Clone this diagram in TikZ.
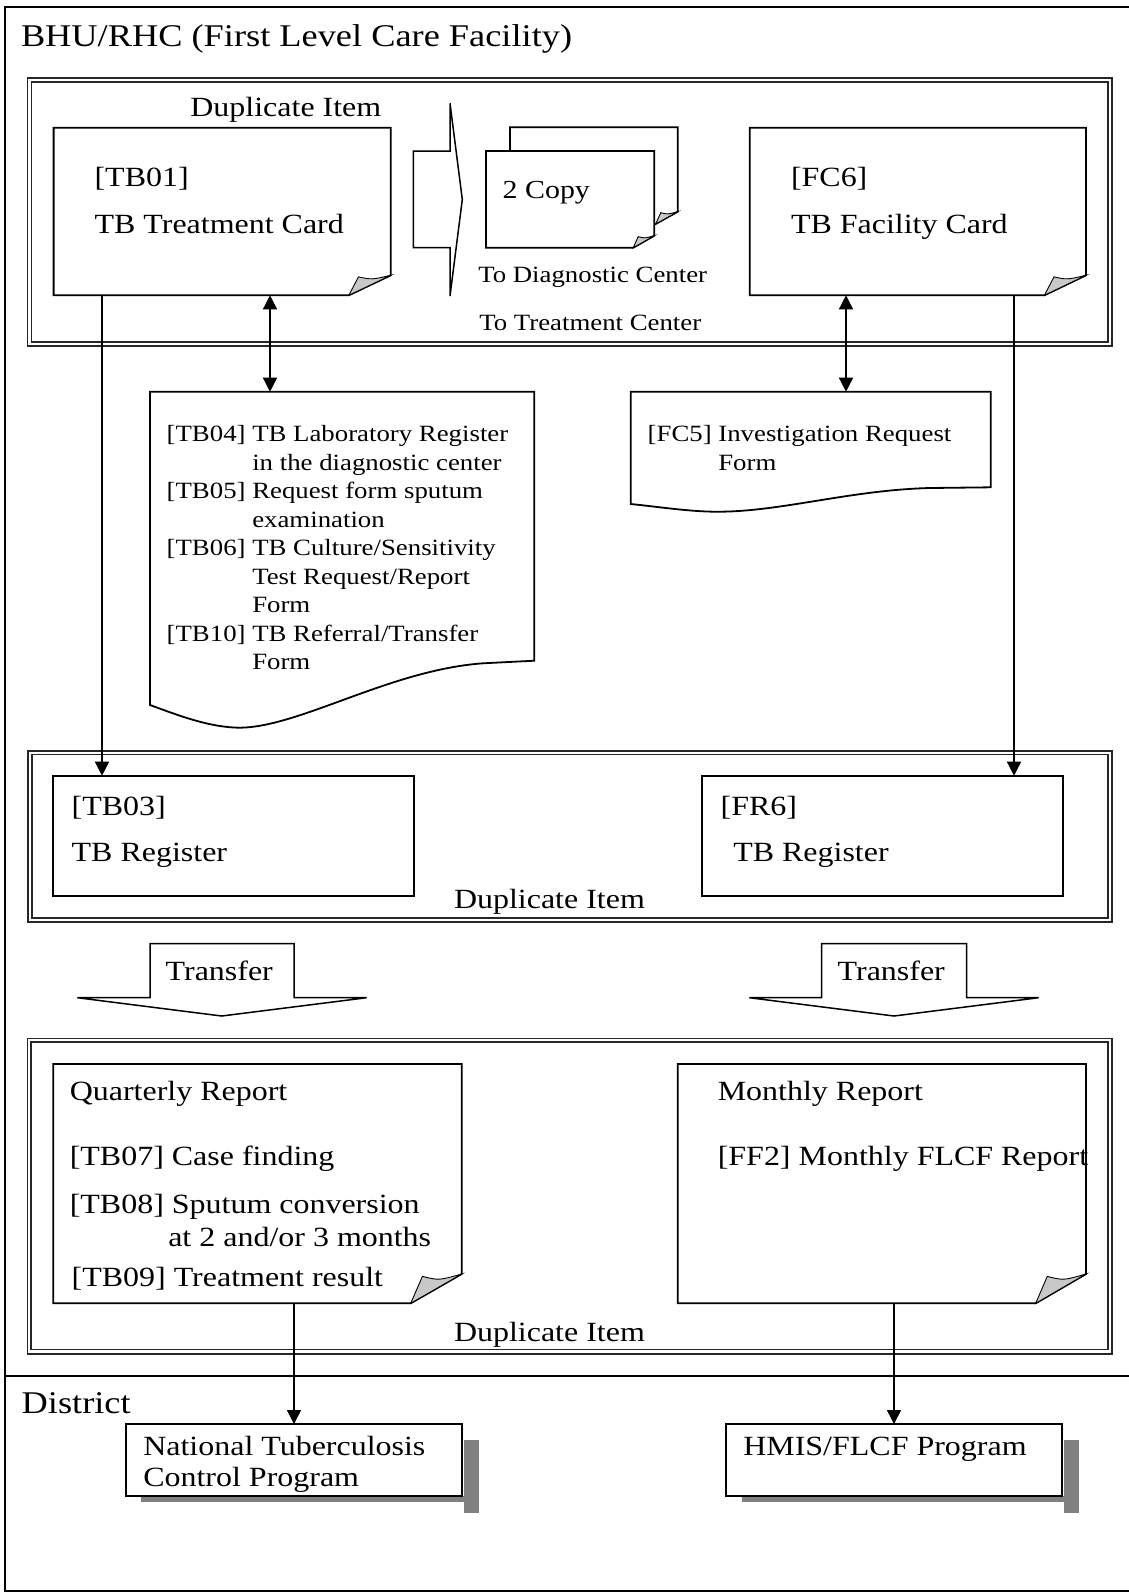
\documentclass[tikz,border=0pt]{standalone}
\usepackage{fontspec}
\setmainfont{Liberation Serif}[FakeStretch=1.15]
\usetikzlibrary{arrows.meta,calc}

\definecolor{foldgray}{RGB}{200,200,200}
\definecolor{shadowgray}{RGB}{128,128,128}

\tikzset{
  frameline/.style={line width=1.7pt},
  dblouter/.style={line width=1.6pt, draw=black!85},
  dblinner/.style={line width=1.1pt, draw=black!85},
  docline/.style={line width=1.8pt, line join=miter},
  foldfill/.style={fill=foldgray, draw=black, line width=0.9pt},
  boxnode/.style={inner sep=0pt, outer sep=0pt, draw=none},
  txt/.style={anchor=base west, inner sep=0pt, outer sep=0pt},
  bigtext/.style={txt, font=\fontsize{31.6}{38}\selectfont},
  midtext/.style={txt, font=\fontsize{27.8}{33}\selectfont},
  smalltext/.style={txt, font=\fontsize{23.3}{28.5}\selectfont},
  link/.style={line width=1.5pt, -{Triangle[length=14pt,width=14pt]}},
  twoway/.style={line width=1.5pt, {Triangle[length=14pt,width=14pt]}-{Triangle[length=14pt,width=14pt]}},
  blockarrow/.style={line width=1.5pt, fill=white, line join=miter},
  shadowfill/.style={fill=shadowgray, draw=none},
}

% a named, invisible rectangle given by its corners
\newcommand{\placebox}[5]{%
  \pgfmathsetmacro\bw{#4-#2}\pgfmathsetmacro\bh{#5-#3}%
  \pgfmathsetmacro\bx{(#2+#4)/2}\pgfmathsetmacro\by{(#3+#5)/2}%
  \node[boxnode, minimum width=\bw pt, minimum height=\bh pt] (#1) at (\bx,\by) {};}

% page with a turned-up lower right corner
\newcommand{\foldeddoc}[3]{%
  \draw[docline, fill=white] (#1.north west) -- (#1.north east)
    -- ([yshift=#3pt]#1.south east) -- ([xshift=-#2pt]#1.south east)
    -- (#1.south west) -- cycle;
  \filldraw[foldfill] ([xshift=-#2pt]#1.south east)
    -- ([xshift=-0.77*#2pt, yshift=0.92*#3pt]#1.south east)
    .. controls ([xshift=-0.45*#2pt, yshift=0.78*#3pt]#1.south east) ..
    ([yshift=#3pt]#1.south east) -- cycle;}

\begin{document}
\begin{tikzpicture}[x=1pt,y=-1pt]
\useasboundingbox (0,0) rectangle (1129,1596);

% outer frame and district divider
\draw[frameline] (1129,7) -- (5,7) -- (5,1591) -- (1129,1591);
\draw[frameline] (5,1376) -- (1129,1376);

% double frames
\draw[dblouter] (27.5,78) rectangle (1112,346);
\draw[dblinner] (31.5,82) rectangle (1108,342);
\draw[dblouter] (28,751) rectangle (1112,922);
\draw[dblinner] (32,754.5) rectangle (1108,918);
\draw[dblouter] (27.5,1038.5) rectangle (1112,1354);
\draw[dblinner] (31,1042) rectangle (1108,1349.5);

% titles
\node[bigtext] (title) at (21,46.7) {BHU/RHC (First Level Care Facility)};
\node[bigtext] (district) at (21.7,1413.3) {District};

% ---------- top group ----------
\placebox{tb01}{53.6}{127.7}{390.8}{295.3}
\foldeddoc{tb01}{42}{20}
\node[midtext] (tb01a) at (94.6,186) {[TB01]};
\node[midtext] (tb01b) at (94.6,233.3) {TB Treatment Card};
\node[midtext] (dup1) at (190.4,116.7) {Duplicate Item};

\draw[blockarrow] (413.3,151) -- (450,151) -- (450,103.3) -- (462.3,199.5)
  -- (450,296) -- (450,247.7) -- (413.3,247.7) -- cycle;

\placebox{copyb}{510}{127.3}{677.7}{224}
\foldeddoc{copyb}{22}{12.3}
\placebox{copyf}{486}{151}{654.3}{247.7}
\foldeddoc{copyf}{21}{12}
\node[txt, font=\fontsize{26}{31}\selectfont] (copytxt) at (502.7,198.3) {2 Copy};
\node[smalltext] (todiag) at (478.3,282.7) {To Diagnostic Center};
\node[smalltext] (totreat) at (479.3,330) {To Treatment Center};

\placebox{fc6}{749.8}{127.7}{1086}{295.3}
\foldeddoc{fc6}{41.6}{20}
\node[midtext] (fc6a) at (791,186) {[FC6]};
\node[midtext] (fc6b) at (791,233) {TB Facility Card};

% ---------- forms ----------
\placebox{tb04}{150}{391.7}{534.3}{660.7}
\draw[docline, fill=white] (tb04.south east) -- (tb04.north east) -- (tb04.north west)
  -- (150,705) .. controls (180,716) and (210,727.5) .. (240,727.7)
  .. controls (300,727) and (390,670) .. (483,663.3) -- cycle;
\node[smalltext] (tb04txt) at (166.7,441.7) {%
  \begin{tabular}[t]{@{}l@{\ }l@{}}
  {[TB04]} & TB Laboratory Register\\
   & in the diagnostic center\\
  {[TB05]} & Request form sputum\\
   & examination\\
  {[TB06]} & TB Culture/Sensitivity\\
   & Test Request/Report\\
   & Form\\
  {[TB10]} & TB Referral/Transfer\\
   & Form
  \end{tabular}};

\placebox{fc5}{630.7}{391.7}{990.7}{487.3}
\draw[docline, fill=white] (fc5.south east) -- (fc5.north east) -- (fc5.north west)
  -- (630.7,504) .. controls (660,507) and (690,511.7) .. (716.7,511.7)
  .. controls (780,512) and (850,490) .. (930,488) -- cycle;
\node[smalltext] (fc5a) at (647.7,441.7) {[FC5] Investigation Request};
\node[smalltext] (fc5b) at (718.3,470) {Form};

% ---------- registers ----------
\placebox{tb03}{53.3}{775.7}{414.3}{895.7}
\draw[docline] (tb03.north west) rectangle (tb03.south east);
\node[midtext] (tb03a) at (71.7,815) {[TB03]};
\node[midtext] (tb03b) at (71.7,861.7) {TB Register};

\placebox{fr6}{701.7}{775.7}{1062.7}{895.7}
\draw[docline] (fr6.north west) rectangle (fr6.south east);
\node[midtext] (fr6a) at (720.7,815) {[FR6]};
\node[midtext] (fr6b) at (733.3,861.7) {TB Register};
\node[midtext] (dup2) at (454,908.3) {Duplicate Item};

% ---------- transfer arrows ----------
\draw[blockarrow] (150,943.7) -- (294,943.7) -- (294,997.7) -- (366.7,997.7)
  -- (221.7,1016) -- (77.3,997.7) -- (150,997.7) -- cycle;
\node[midtext] (trans1) at (165.7,980.7) {Transfer};
\draw[blockarrow] (821.7,943.7) -- (966.7,943.7) -- (966.7,997.7) -- (1038.7,997.7)
  -- (894,1016) -- (749.3,997.7) -- (821.7,997.7) -- cycle;
\node[midtext] (trans2) at (837.7,980.7) {Transfer};

% ---------- reports ----------
\placebox{qrep}{53.3}{1064}{461.7}{1303.3}
\foldeddoc{qrep}{51}{29.3}
\node[midtext] (qrep1) at (69.8,1100) {Quarterly Report};
\node[midtext] (qrep2) at (69.8,1165) {[TB07] Case finding};
\node[midtext] (qrep3) at (69.8,1213) {[TB08] Sputum conversion};
\node[midtext] (qrep4) at (168.3,1246) {at 2 and/or 3 months};
\node[midtext] (qrep5) at (71.7,1286) {[TB09] Treatment result};

\placebox{mrep}{677.7}{1064}{1086}{1303.3}
\foldeddoc{mrep}{50.3}{29.3}
\node[midtext] (mrep1) at (717.8,1100) {Monthly Report};
\node[midtext] (mrep2) at (717.8,1165) {[FF2] Monthly FLCF Report};
\node[midtext] (dup3) at (454,1341.7) {Duplicate Item};

% ---------- district programmes ----------
\fill[shadowfill] (464,1440) rectangle (479,1512.7);
\fill[shadowfill] (141,1496) rectangle (464,1501.7);
\placebox{ntcp}{125.7}{1424}{462.3}{1496}
\draw[docline, fill=white] (ntcp.north west) rectangle (ntcp.south east);
\node[txt, font=\fontsize{27.8}{31.7}\selectfont] (ntcptxt) at (143.3,1455) {%
  \begin{tabular}[t]{@{}l@{}}National Tuberculosis\\ Control Program\end{tabular}};

\fill[shadowfill] (1064,1440) rectangle (1079,1512.7);
\fill[shadowfill] (742,1496) rectangle (1064,1501.7);
\placebox{hmis}{725.7}{1424}{1062.3}{1496}
\draw[docline, fill=white] (hmis.north west) rectangle (hmis.south east);
\node[midtext] (hmistxt) at (743.3,1455) {HMIS/FLCF Program};

% ---------- connectors ----------
\coordinate (xa) at (102,0);
\coordinate (xb) at (270,0);
\coordinate (xc) at (846,0);
\coordinate (xd) at (1014,0);
\coordinate (xe) at (294,0);
\coordinate (xf) at (894,0);
\draw[link] (tb01.south -| xa) -- (tb03.north -| xa);
\draw[twoway] (tb01.south -| xb) -- (tb04.north -| xb);
\draw[twoway] (fc6.south -| xc) -- (fc5.north -| xc);
\draw[link] (fc6.south -| xd) -- (fr6.north -| xd);
\draw[link] (qrep.south -| xe) -- (ntcp.north -| xe);
\draw[link] (mrep.south -| xf) -- (hmis.north -| xf);
\end{tikzpicture}
\end{document}
